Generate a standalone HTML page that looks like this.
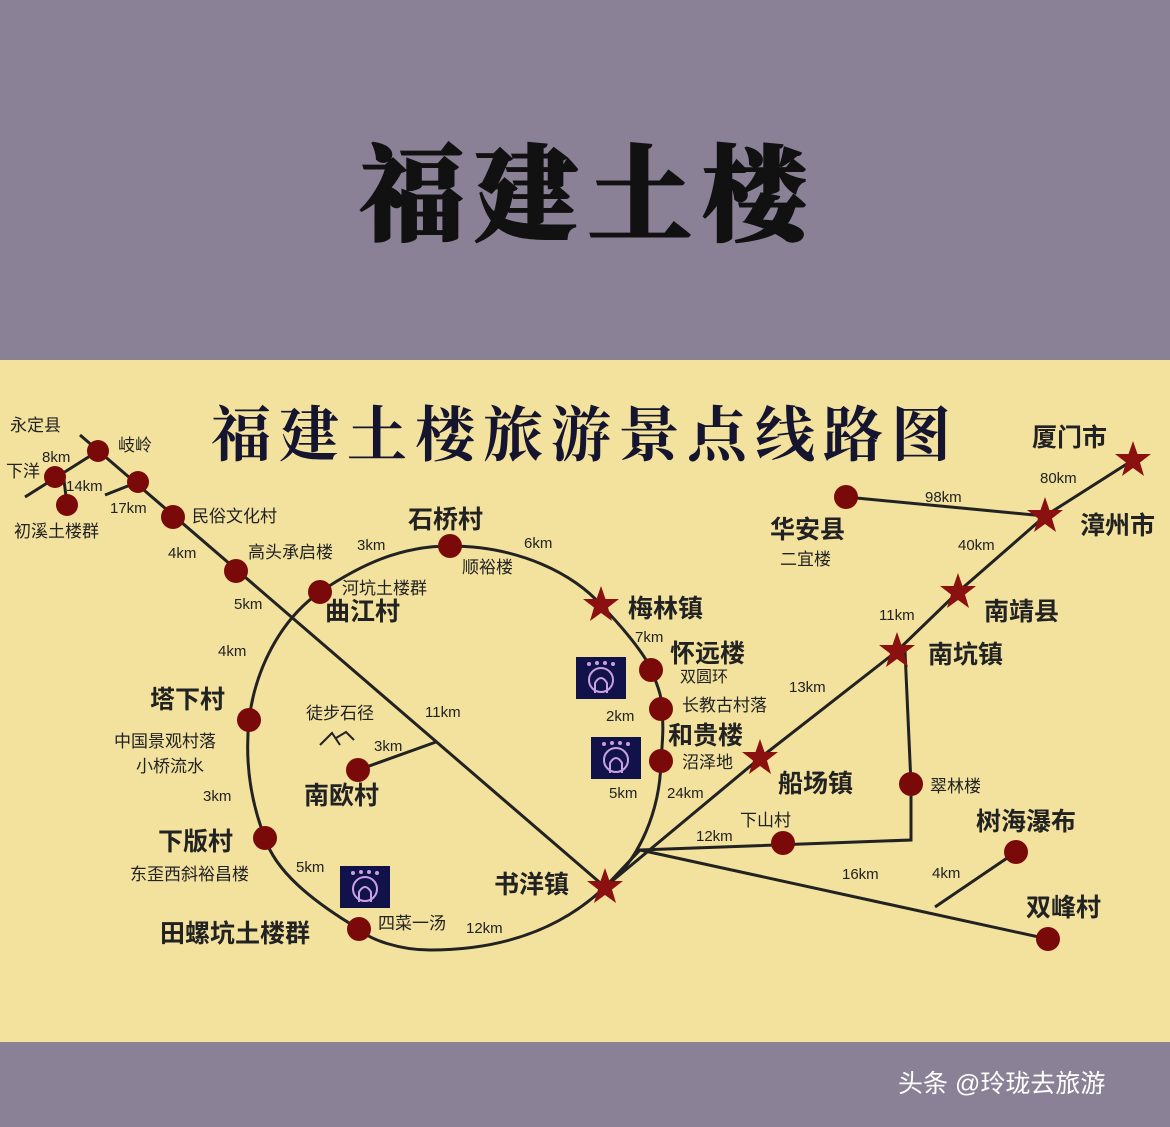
<!DOCTYPE html>
<html><head><meta charset="utf-8"><style>
body{margin:0;width:1170px;height:1127px;overflow:hidden;background:#8a8197;}
svg{display:block}
text{font-family:"Liberation Sans","Noto Sans CJK SC",sans-serif;fill:#222;}
.b{font-weight:bold}
</style></head><body>
<svg width="1170" height="1127" viewBox="0 0 1170 1127">
<rect x="0" y="0" width="1170" height="1127" fill="#8a8197"/>
<rect x="0" y="360" width="1170" height="682" fill="#f2e29e"/>
<text x="588" y="232" text-anchor="middle" font-size="104" font-weight="900" letter-spacing="10" style="fill:#111;font-family:'Noto Serif CJK SC',serif;stroke:#111;stroke-width:2">福建土楼</text>
<text x="585" y="456" text-anchor="middle" font-size="60" letter-spacing="8" style="fill:#151530;font-family:'Noto Serif CJK SC',serif;font-weight:bold">福建土楼旅游景点线路图</text>
<g stroke="#222" stroke-width="3" fill="none">
<path d="M450,546 C520,546 575,575 601,605 C630,635 648,660 651,670 C660,690 662,700 662,709 C664,730 662,745 661,761 C660,810 640,860 605,887 C560,930 500,950 430,950 C400,950 370,940 359,929 C310,900 275,870 265,838 C250,800 245,760 249,720 C255,670 280,620 320,592 C360,565 400,546 450,546 Z"/>
<path d="M80,435 L605,887"/>
<path d="M25,497 L98,451"/>
<path d="M64,480 L67,505"/>
<path d="M105,495 L138,482"/>
<path d="M358,770 L436,742"/>
<path d="M605,887 L760,758 L897,651 L958,592 L1045,516 L1133,460"/>
<path d="M846,497 L1045,516"/>
<path d="M605,887 L640,850 L911,840 L911,784 L905,651"/>
<path d="M640,850 L1048,939"/>
<path d="M935,907 L1016,852"/>
</g>
<g fill="#7a0a0a">
<circle cx="98" cy="451" r="11"/><circle cx="55" cy="477" r="11"/><circle cx="67" cy="505" r="11"/>
<circle cx="138" cy="482" r="11"/><circle cx="173" cy="517" r="12"/><circle cx="236" cy="571" r="12"/>
<circle cx="320" cy="592" r="12"/><circle cx="450" cy="546" r="12"/><circle cx="651" cy="670" r="12"/>
<circle cx="661" cy="709" r="12"/><circle cx="661" cy="761" r="12"/><circle cx="249" cy="720" r="12"/>
<circle cx="358" cy="770" r="12"/><circle cx="265" cy="838" r="12"/><circle cx="359" cy="929" r="12"/>
<circle cx="846" cy="497" r="12"/><circle cx="911" cy="784" r="12"/><circle cx="783" cy="843" r="12"/>
<circle cx="1016" cy="852" r="12"/><circle cx="1048" cy="939" r="12"/>
</g>
<defs><polygon id="st" points="0,-19 4.5,-6 18,-6 7,2.5 11,16 0,8 -11,16 -7,2.5 -18,-6 -4.5,-6" fill="#8b1010"/>
<g id="ic"><rect x="0" y="0" width="50" height="42" fill="#12124a"/><circle cx="25" cy="23" r="12" fill="none" stroke="#c9a0e0" stroke-width="2"/><path d="M19,36 L19,26 Q25,16 31,26 L31,36" fill="none" stroke="#c9a0e0" stroke-width="2"/><circle cx="13" cy="7" r="2" fill="#c9a0e0"/><circle cx="21" cy="6" r="2" fill="#c9a0e0"/><circle cx="29" cy="6" r="2" fill="#c9a0e0"/><circle cx="37" cy="7" r="2" fill="#c9a0e0"/></g></defs>
<use href="#st" x="601" y="605"/><use href="#st" x="605" y="887"/><use href="#st" x="760" y="758"/>
<use href="#st" x="897" y="651"/><use href="#st" x="958" y="592"/><use href="#st" x="1045" y="516"/><use href="#st" x="1133" y="460"/>
<use href="#ic" x="576" y="657"/><use href="#ic" x="591" y="737"/><use href="#ic" x="340" y="866"/>
<path d="M320,745 L332,733 L340,745 M336,738 L346,732 L354,740" stroke="#222" stroke-width="2" fill="none"/>
<g font-size="17">
<text x="10" y="431">永定县</text><text x="118" y="451">岐岭</text><text x="6" y="477">下洋</text>
<text x="42" y="462" font-size="15">8km</text><text x="66" y="491" font-size="15">14km</text><text x="110" y="513" font-size="15">17km</text>
<text x="14" y="537">初溪土楼群</text><text x="192" y="522">民俗文化村</text><text x="168" y="558" font-size="15">4km</text>
<text x="248" y="558">高头承启楼</text><text x="234" y="609" font-size="15">5km</text><text x="357" y="550" font-size="15">3km</text>
<text x="342" y="594">河坑土楼群</text><text x="462" y="573">顺裕楼</text><text x="524" y="548" font-size="15">6km</text>
<text x="218" y="656" font-size="15">4km</text><text x="306" y="719">徒步石径</text><text x="425" y="717" font-size="15">11km</text>
<text x="374" y="751" font-size="15">3km</text><text x="114" y="747">中国景观村落</text><text x="136" y="772">小桥流水</text>
<text x="203" y="801" font-size="15">3km</text><text x="130" y="880">东歪西斜裕昌楼</text><text x="296" y="872" font-size="15">5km</text>
<text x="378" y="929">四菜一汤</text><text x="466" y="933" font-size="15">12km</text>
<text x="635" y="642" font-size="15">7km</text><text x="680" y="682" font-size="16">双圆环</text><text x="682" y="711">长教古村落</text>
<text x="606" y="721" font-size="15">2km</text><text x="682" y="768">沼泽地</text><text x="609" y="798" font-size="15">5km</text>
<text x="667" y="798" font-size="15">24km</text><text x="789" y="692" font-size="15">13km</text><text x="696" y="841" font-size="15">12km</text>
<text x="740" y="826">下山村</text><text x="930" y="792">翠林楼</text><text x="842" y="879" font-size="15">16km</text>
<text x="932" y="878" font-size="15">4km</text><text x="879" y="620" font-size="15">11km</text><text x="958" y="550" font-size="15">40km</text>
<text x="925" y="502" font-size="15">98km</text><text x="1040" y="483" font-size="15">80km</text><text x="780" y="565">二宜楼</text>
</g>
<g font-size="25" class="b">
<text x="408" y="528">石桥村</text><text x="325" y="620">曲江村</text><text x="628" y="617">梅林镇</text>
<text x="670" y="662">怀远楼</text><text x="668" y="744">和贵楼</text><text x="150" y="708">塔下村</text>
<text x="304" y="804">南欧村</text><text x="158" y="850">下版村</text><text x="160" y="942">田螺坑土楼群</text>
<text x="494" y="893">书洋镇</text><text x="778" y="792">船场镇</text><text x="928" y="663">南坑镇</text>
<text x="984" y="620">南靖县</text><text x="1080" y="534">漳州市</text><text x="1032" y="446">厦门市</text>
<text x="770" y="538">华安县</text><text x="976" y="830">树海瀑布</text><text x="1026" y="916">双峰村</text>
</g>
<text x="898" y="1092" font-size="25" style="fill:#fff">头条 @玲珑去旅游</text>
</svg>
</body></html>
